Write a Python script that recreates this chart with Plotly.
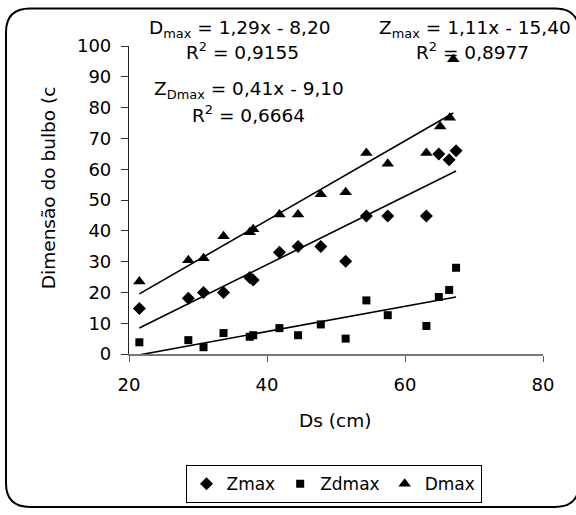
import plotly.graph_objects as go

# ---- data ----
ds = [21.5, 28.6, 30.8, 33.7, 37.5, 38.0, 41.8, 44.5, 47.8, 51.4, 54.4, 57.5, 63.1, 64.9, 66.4, 67.4]
zmax = [14.8, 18.1, 20.0, 20.0, 24.8, 24.0, 33.0, 34.9, 34.9, 30.1, 44.8, 44.8, 44.8, 64.9, 63.1, 66.0]
zdmax = [3.8, 4.5, 2.2, 6.8, 5.6, 6.1, 8.4, 6.1, 9.6, 5.0, 17.4, 12.6, 9.1, 18.5, 20.8, 28.0]
ds_d = [21.5, 28.6, 30.8, 33.7, 37.5, 38.0, 41.8, 44.5, 47.8, 51.4, 54.4, 57.5, 63.1, 65.1, 66.5, 67.0]
dmax = [23.5, 30.4, 31.1, 38.2, 39.5, 40.5, 45.3, 45.3, 51.9, 52.5, 65.3, 61.8, 65.3, 73.9, 76.7, 95.7]

series_names = ["Zmax", "Zdmax", "Dmax"]
slopes = {"Zmax": 1.11, "Zdmax": 0.41, "Dmax": 1.29}
intercepts = {"Zmax": -15.40, "Zdmax": -9.10, "Dmax": -8.20}

x_ticks = [20, 40, 60, 80]
y_ticks = [0, 10, 20, 30, 40, 50, 60, 70, 80, 90, 100]

FONT = "DejaVu Sans, Liberation Sans, Arial, sans-serif"

fig = go.Figure()

series = [
    ("Zmax", ds, zmax, "diamond", 10),
    ("Zdmax", ds, zdmax, "square", 8),
    ("Dmax", ds_d, dmax, "triangle-up", 11),
]
for name, xs, ys, sym, sz in series:
    fig.add_trace(go.Scatter(
        x=xs, y=ys, mode="markers", name=name,
        marker=dict(symbol=sym, size=sz, color="black"),
        cliponaxis=False,
    ))

for name, xs, ys, sym, sz in series:
    x0, x1 = min(xs), max(xs)
    fig.add_trace(go.Scatter(
        x=[x0, x1],
        y=[slopes[name] * x0 + intercepts[name], slopes[name] * x1 + intercepts[name]],
        mode="lines", line=dict(color="black", width=1.6),
        showlegend=False, hoverinfo="skip",
    ))

W, H = 576, 515
L, R, T, B = 129, 33, 46, 157
pw, ph = W - L - R, H - T - B


def px(xp):
    return (xp - L) / pw


def py(yp):
    return (H - B - yp) / ph


ann = [
    ("D<sub>max</sub> = 1,29x - 8,20", 239, 29),
    ("R<sup>2</sup> = 0,9155", 242, 51),
    ("Z<sub>max</sub> = 1,11x - 15,40", 474.5, 29),
    ("R<sup>2</sup> = 0,8977", 472.5, 51),
    ("Z<sub>Dmax</sub> = 0,41x - 9,10", 248.5, 91),
    ("R<sup>2</sup> = 0,6664", 248, 115),
]
annotations = []
for text, xx, yy in ann:
    annotations.append(dict(
        text=text, x=px(xx), y=py(yy), xref="paper", yref="paper",
        xanchor="center", yanchor="middle", showarrow=False,
        font=dict(family=FONT, size=18.5, color="black"),
    ))
annotations.append(dict(
    text="Dimensão do bulbo (c", x=px(48), y=py(190), xref="paper", yref="paper",
    xanchor="center", yanchor="middle", showarrow=False, textangle=-90,
    font=dict(family=FONT, size=18.5, color="black"),
))
annotations.append(dict(
    text="Ds (cm)", x=px(335), y=py(425), xref="paper", yref="paper",
    xanchor="center", yanchor="middle", showarrow=False,
    font=dict(family=FONT, size=18.5, color="black"),
))

# rounded outer border (pixel geometry converted to paper)
bx0, bx1, by0, by1, rr = 6, 579, 8, 513, 24
def P(a, b):
    return f"{px(a):.5f},{py(b):.5f}"
path = (f"M {P(bx0 + rr, by0)} L {P(bx1 - rr, by0)} Q {P(bx1, by0)} {P(bx1, by0 + rr)} "
        f"L {P(bx1, by1 - rr)} Q {P(bx1, by1)} {P(bx1 - rr, by1)} "
        f"L {P(bx0 + rr, by1)} Q {P(bx0, by1)} {P(bx0, by1 - rr)} "
        f"L {P(bx0, by0 + rr)} Q {P(bx0, by0)} {P(bx0 + rr, by0)} Z")

fig.update_layout(
    width=W, height=H,
    margin=dict(l=L, r=R, t=T, b=B),
    paper_bgcolor="white", plot_bgcolor="white",
    font=dict(family=FONT, size=18, color="black"),
    showlegend=True,
    legend=dict(
        orientation="h", x=px(333.5), y=py(490), xanchor="center", yanchor="middle",
        bordercolor="black", borderwidth=1, font=dict(family=FONT, size=17),
        itemwidth=30, tracegroupgap=0,
    ),
    annotations=annotations,
    shapes=[dict(type="path", path=path, xref="paper", yref="paper",
                 line=dict(color="black", width=2), layer="above")],
)
fig.update_xaxes(
    range=[20, 80], tickvals=x_ticks, ticktext=[str(v) for v in x_ticks],
    showgrid=False, zeroline=False, showline=True, linecolor="#777777", linewidth=1.5,
    ticks="outside", ticklen=6, tickcolor="#555555", tickwidth=1,
    ticklabelstandoff=8,
    tickfont=dict(family=FONT, size=18), fixedrange=True,
)
fig.update_yaxes(
    range=[0, 100], tickvals=y_ticks, ticktext=[str(v) for v in y_ticks],
    showgrid=False, zeroline=False, showline=True, linecolor="#222222", linewidth=1.2,
    ticks="outside", ticklen=7, tickcolor="#333333", tickwidth=1,
    ticklabelstandoff=6,
    tickfont=dict(family=FONT, size=18), fixedrange=True,
)

fig.write_html("out.html")
